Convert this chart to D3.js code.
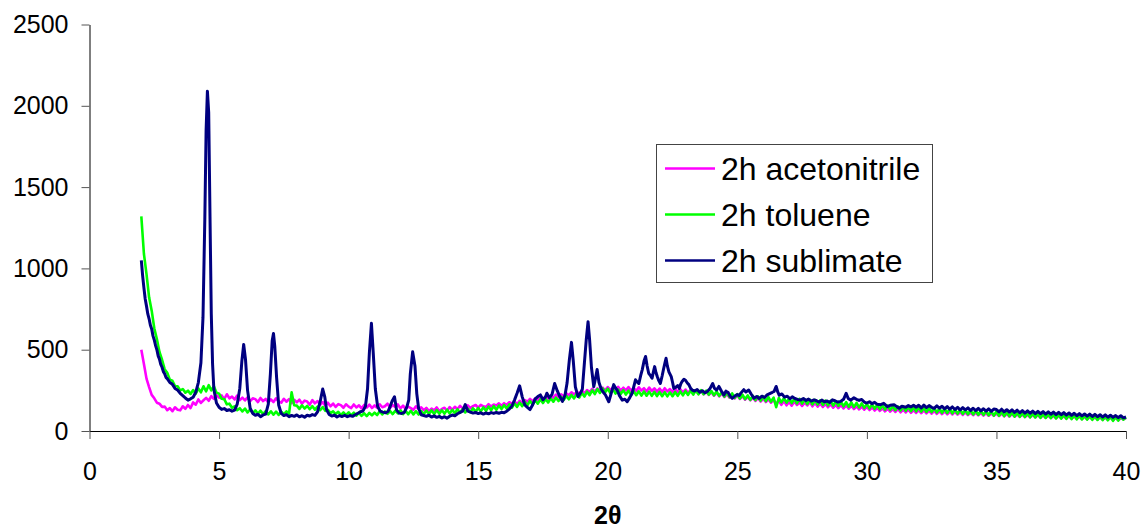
<!DOCTYPE html>
<html>
<head>
<meta charset="utf-8">
<script src="https://cdn.jsdelivr.net/npm/d3@7"></script>
<style>
    body { margin: 0; background: #ffffff; }
    svg { display: block; font-family: Arial, "Liberation Sans", sans-serif; }
</style>
</head>
<body>
<div id="my_dataviz"></div>
<script>
////////////////////////////////////////////////////////
// data (2 theta scan)
////////////////////////////////////////////////////////
const seriesNames = ['2h acetonitrile', '2h toluene', '2h sublimate'];
const seriesColors = ['#ff00ff', '#00ff00', '#000080'];

const xTicks = [0, 5, 10, 15, 20, 25, 30, 35, 40];
const yTicks = [0, 500, 1000, 1500, 2000, 2500];

// acetonitrile and toluene are on the scan grid: start 2.0, step 0.1
const scanStart = 2.0;
const scanStep = 0.1;

const acetonitrile = [
    500, 412, 322, 270, 222, 201, 174, 168, 148, 150,
    128, 141, 122, 146, 131, 127, 152, 136, 160, 141,
    176, 162, 194, 173, 189, 204, 186, 214, 197, 221,
    205, 219, 196, 226, 201, 212, 194, 218, 190, 205,
    188, 207, 183, 201, 196, 178, 203, 184, 197, 176,
    194, 178, 201, 182, 174, 198, 180, 196, 171, 192,
    176, 193, 168, 187, 181, 162, 190, 170, 184, 161,
    178, 156, 174, 152, 169, 148, 165, 159, 143, 164,
    150, 141, 163, 145, 158, 139, 160, 144, 162, 141,
    157, 143, 164, 146, 152, 168, 142, 160, 147, 163,
    139, 156, 135, 150, 141, 130, 152, 134, 145, 128,
    142, 122, 138, 127, 145, 121, 136, 143, 124, 147,
    130, 149, 134, 155, 139, 145, 158, 141, 153, 160,
    143, 161, 152, 147, 165, 150, 163, 157, 170, 155,
    171, 160, 177, 168, 182, 165, 186, 174, 190, 181,
    197, 183, 201, 192, 207, 190, 212, 198, 216, 205,
    224, 207, 226, 214, 232, 219, 238, 224, 241, 230,
    248, 232, 252, 240, 259, 241, 262, 245, 267, 250,
    270, 251, 268, 254, 272, 248, 266, 250, 270, 247,
    266, 246, 269, 249, 263, 243, 267, 246, 262, 242,
    261, 240, 263, 243, 258, 238, 260, 241, 257, 236,
    255, 234, 253, 231, 250, 229, 247, 226, 243, 222,
    240, 217, 236, 213, 231, 209, 227, 205, 222, 200,
    219, 197, 215, 193, 210, 189, 206, 185, 203, 181,
    199, 178, 196, 174, 192, 166, 188, 161, 185, 158,
    178, 156, 181, 160, 176, 154, 174, 157, 179, 152,
    172, 150, 169, 148, 167, 146, 164, 143, 161, 141,
    160, 139, 157, 137, 155, 135, 152, 133, 150, 131,
    148, 129, 146, 126, 143, 124, 140, 121, 137, 119,
    135, 117, 136, 115, 132, 114, 131, 112, 129, 111,
    128, 110, 127, 109, 125, 107, 124, 106, 122, 104,
    121, 103, 120, 102, 118, 101, 117, 99, 115, 98,
    114, 97, 113, 96, 112, 95, 110, 94, 109, 93,
    108, 92, 107, 90, 105, 89, 104, 88, 102, 87,
    101, 86, 100, 85, 98, 84, 97, 82, 96, 81,
    95, 80, 94, 79, 92, 78, 91, 77, 90, 76,
    89, 75, 88, 74, 86, 73, 85, 72, 84, 71,
    83, 70, 82, 69, 81, 68, 80, 67, 79, 72,
    79
];

const toluene = [
    1320, 1090, 965, 822, 740, 632, 566, 486, 438, 380,
    358, 316, 309, 276, 275, 250, 258, 236, 248, 228,
    252, 230, 262, 238, 275, 244, 282, 250, 276, 236,
    230, 198, 196, 164, 168, 143, 152, 128, 140, 120,
    138, 114, 133, 110, 127, 106, 125, 104, 122, 102,
    121, 100, 119, 99, 118, 103, 121, 105, 238, 158,
    156, 136, 158, 138, 155, 134, 153, 131, 150, 128,
    147, 124, 130, 110, 121, 104, 118, 98, 114, 97,
    115, 96, 113, 94, 111, 93, 109, 92, 111, 96,
    113, 98, 121, 102, 120, 106, 123, 104, 125, 108,
    127, 104, 125, 103, 124, 102, 122, 101, 123, 104,
    126, 104, 127, 105, 129, 106, 128, 107, 131, 108,
    130, 110, 134, 112, 136, 114, 138, 116, 140, 119,
    142, 121, 146, 124, 150, 128, 153, 131, 156, 135,
    159, 138, 164, 143, 170, 148, 175, 153, 180, 158,
    185, 163, 189, 168, 194, 172, 197, 175, 201, 180,
    205, 184, 210, 190, 216, 195, 222, 200, 228, 206,
    234, 212, 242, 220, 250, 227, 258, 234, 262, 238,
    260, 234, 257, 230, 254, 227, 251, 224, 248, 222,
    245, 220, 244, 218, 243, 217, 242, 216, 241, 215,
    240, 214, 239, 213, 238, 214, 240, 216, 243, 219,
    245, 222, 248, 224, 250, 225, 251, 226, 248, 224,
    246, 220, 243, 216, 239, 212, 236, 208, 231, 204,
    227, 200, 223, 196, 219, 192, 216, 190, 213, 187,
    211, 184, 208, 181, 205, 146, 203, 176, 202, 174,
    200, 172, 199, 170, 197, 168, 195, 166, 193, 164,
    191, 162, 189, 160, 187, 158, 185, 156, 182, 154,
    180, 151, 178, 149, 176, 147, 173, 145, 170, 142,
    167, 139, 164, 137, 161, 134, 159, 132, 156, 130,
    153, 128, 151, 126, 150, 124, 148, 122, 146, 121,
    145, 119, 143, 117, 141, 116, 140, 114, 138, 112,
    137, 111, 135, 109, 133, 107, 131, 105, 129, 103,
    128, 102, 126, 100, 124, 99, 123, 97, 121, 95,
    120, 94, 118, 92, 116, 91, 115, 89, 113, 87,
    112, 86, 110, 84, 108, 83, 107, 81, 105, 80,
    104, 79, 103, 77, 101, 76, 100, 75, 99, 73,
    98, 72, 96, 71, 95, 70, 94, 69, 93, 68,
    92, 67, 91, 66, 89, 62, 88, 64, 90, 70,
    85
];

// sublimate has sharp peaks, so it is kept as [2theta, counts] pairs
const sublimate = [
    [2.0,1050],[2.05,955],[2.1,880],[2.15,812],[2.2,768],[2.25,720],[2.3,690],[2.35,650],[2.4,628],[2.45,585],
    [2.5,560],[2.55,525],[2.6,500],[2.65,462],[2.7,442],[2.75,410],[2.8,392],[2.85,365],[2.9,352],[2.95,330],
    [3.0,322],[3.1,298],[3.2,287],[3.3,262],[3.4,252],[3.5,232],[3.6,218],[3.7,203],[3.8,190],[3.9,198],
    [4.0,208],[4.1,238],[4.2,298],[4.3,420],[4.38,700],[4.45,1300],[4.5,1850],[4.55,2090],[4.6,1960],[4.65,1320],
    [4.7,720],[4.75,410],[4.8,255],[4.9,172],[5.0,146],[5.1,133],[5.2,138],[5.3,126],[5.4,131],[5.5,122],
    [5.6,128],[5.7,165],[5.8,262],[5.88,430],[5.95,532],[6.02,440],[6.1,250],[6.2,140],[6.3,108],[6.4,97],
    [6.5,103],[6.6,88],[6.7,99],[6.8,104],[6.9,165],[6.98,350],[7.05,555],[7.1,600],[7.15,520],[7.22,330],
    [7.3,160],[7.4,108],[7.5,95],[7.6,101],[7.7,88],[7.8,96],[7.9,90],[8.0,99],[8.1,87],[8.2,94],
    [8.3,85],[8.4,97],[8.5,92],[8.6,101],[8.7,96],[8.8,118],[8.9,180],[9.0,258],[9.08,210],[9.15,130],
    [9.25,102],[9.35,92],[9.45,98],[9.55,86],[9.65,95],[9.75,89],[9.85,97],[9.95,88],[10.05,95],[10.15,90],
    [10.25,100],[10.35,108],[10.45,118],[10.55,122],[10.65,152],[10.73,260],[10.8,480],[10.88,662],[10.95,480],[11.03,260],
    [11.12,150],[11.22,122],[11.32,116],[11.42,112],[11.52,120],[11.6,150],[11.68,185],[11.77,210],[11.85,130],[11.95,110],
    [12.05,108],[12.15,114],[12.25,150],[12.32,190],[12.38,350],[12.47,487],[12.56,400],[12.63,230],[12.7,140],[12.8,100],
    [12.9,95],[13.0,90],[13.1,97],[13.2,86],[13.3,93],[13.4,84],[13.5,90],[13.6,80],[13.7,88],[13.8,79],
    [13.9,91],[14.0,98],[14.1,94],[14.2,106],[14.3,114],[14.4,122],[14.5,162],[14.6,122],[14.7,116],[14.8,110],
    [14.9,114],[15.0,107],[15.1,112],[15.2,104],[15.3,111],[15.4,106],[15.5,113],[15.6,108],[15.7,114],[15.8,109],
    [15.9,115],[16.0,112],[16.1,122],[16.2,135],[16.3,152],[16.4,190],[16.5,232],[16.6,278],[16.7,210],[16.8,160],
    [16.9,145],[17.0,132],[17.1,160],[17.2,198],[17.3,212],[17.4,222],[17.5,192],[17.6,210],[17.65,232],[17.75,205],
    [17.85,225],[17.95,292],[18.05,248],[18.15,212],[18.25,182],[18.35,220],[18.43,295],[18.52,440],[18.6,545],[18.67,430],
    [18.75,272],[18.85,212],[18.95,235],[19.02,258],[19.1,420],[19.17,560],[19.24,672],[19.3,560],[19.37,392],[19.46,272],
    [19.52,318],[19.59,378],[19.66,300],[19.74,262],[19.82,240],[19.91,222],[20.04,180],[20.13,230],[20.23,285],[20.3,265],
    [20.36,252],[20.46,215],[20.56,190],[20.66,195],[20.75,180],[20.85,205],[20.94,232],[21.07,315],[21.14,300],[21.2,292],
    [21.27,340],[21.33,376],[21.4,430],[21.46,458],[21.52,400],[21.58,355],[21.65,340],[21.71,325],[21.77,370],[21.81,396],
    [21.86,360],[21.91,335],[21.97,310],[22.03,292],[22.1,340],[22.16,386],[22.21,420],[22.25,447],[22.3,400],[22.36,364],
    [22.45,334],[22.5,300],[22.55,262],[22.62,268],[22.7,280],[22.76,262],[22.82,290],[22.87,305],[22.94,318],[23.0,312],
    [23.07,295],[23.13,285],[23.2,262],[23.26,252],[23.35,246],[23.45,255],[23.55,238],[23.65,248],[23.75,235],[23.85,244],
    [23.95,262],[24.05,292],[24.12,262],[24.2,252],[24.29,274],[24.38,248],[24.48,222],[24.56,245],[24.65,236],[24.72,215],
    [24.8,201],[24.9,215],[25.0,224],[25.07,218],[25.15,236],[25.25,254],[25.33,240],[25.44,252],[25.54,226],[25.64,202],
    [25.75,212],[25.85,200],[25.95,214],[26.05,206],[26.15,222],[26.25,230],[26.35,238],[26.42,244],[26.5,274],[26.56,240],
    [26.62,220],[26.72,228],[26.82,208],[26.93,214],[27.03,198],[27.12,210],[27.22,200],[27.32,194],[27.44,190],[27.55,200],
    [27.65,188],[27.75,196],[27.85,184],[27.96,192],[28.06,186],[28.16,178],[28.26,190],[28.36,180],[28.47,184],[28.57,176],
    [28.67,192],[28.77,186],[28.88,178],[28.99,182],[29.1,195],[29.2,232],[29.28,200],[29.38,190],[29.5,204],[29.6,195],
    [29.7,188],[29.8,194],[29.9,178],[30.0,172],[30.1,180],[30.2,168],[30.3,176],[30.4,164],[30.53,162],[30.65,170],
    [30.79,150],[30.9,158],[31.05,162],[31.15,150],[31.25,140],[31.35,152],[31.5,146],[31.6,156],[31.7,148],[31.8,158],
    [31.9,146],[32.0,158],[32.1,142],[32.2,159],[32.3,144],[32.4,156],[32.5,146],[32.6,139],[32.7,155],[32.8,140],
    [32.9,152],[33.0,136],[33.1,150],[33.2,134],[33.3,148],[33.4,132],[33.5,146],[33.6,129],[33.7,144],[33.8,130],
    [33.9,142],[34.0,126],[34.1,140],[34.2,125],[34.3,139],[34.4,124],[34.5,137],[34.6,122],[34.7,136],[34.8,121],
    [34.9,135],[35.0,132],[35.1,118],[35.2,134],[35.3,117],[35.4,131],[35.5,116],[35.6,130],[35.7,114],[35.8,128],
    [35.9,112],[36.0,125],[36.1,110],[36.2,124],[36.3,109],[36.4,122],[36.5,107],[36.6,121],[36.7,106],[36.8,119],
    [36.9,104],[37.0,118],[37.1,103],[37.2,116],[37.3,101],[37.4,115],[37.5,100],[37.6,113],[37.7,98],[37.8,111],
    [37.9,96],[38.0,109],[38.1,94],[38.2,107],[38.3,93],[38.4,105],[38.5,91],[38.6,104],[38.7,89],[38.8,102],
    [38.9,88],[39.0,100],[39.1,86],[39.2,99],[39.3,85],[39.4,97],[39.5,84],[39.6,95],[39.7,82],[39.8,94],
    [39.9,81],[40.0,86]
];

////////////////////////////////////////////////////////
// chart
////////////////////////////////////////////////////////
const W = 1145, H = 529;
const margin = {top: 24.5, right: 19, bottom: 98, left: 89.5};
const width = W - margin.left - margin.right;
const height = H - margin.top - margin.bottom;

const svg = d3.select('#my_dataviz')
    .append('svg')
        .attr('width', W)
        .attr('height', H)
    .append('g')
        .attr('transform', 'translate(' + margin.left + ',' + margin.top + ')');

const x = d3.scaleLinear().domain([0, 40]).range([0, width]);
const y = d3.scaleLinear().domain([0, 2500]).range([height, 0]);

// axes
const xAxis = svg.append('g')
    .attr('transform', 'translate(0,' + height + ')')
    .call(d3.axisBottom(x).tickValues(xTicks).tickSize(8).tickSizeOuter(0).tickFormat(d3.format('d')));
xAxis.select('.domain').attr('stroke', '#000');
xAxis.selectAll('line').attr('stroke', '#555');
xAxis.selectAll('text')
    .attr('y', 31)
    .attr('dy', '0.71em')
    .style('font-size', '25px')
    .style('fill', '#000');

const yAxis = svg.append('g')
    .call(d3.axisLeft(y).tickValues(yTicks).tickSize(8).tickSizeOuter(0).tickFormat(d3.format('d')));
yAxis.select('.domain').attr('stroke', '#000');
yAxis.selectAll('line').attr('stroke', '#555');
yAxis.selectAll('text')
    .attr('x', -21)
    .style('font-size', '25px')
    .style('fill', '#000');

// lines
const line = d3.line()
    .x(d => x(d[0]))
    .y(d => y(d[1]));

const onGrid = arr => arr.map((v, i) => [scanStart + i * scanStep, v]);
const series = [onGrid(acetonitrile), onGrid(toluene), sublimate];

series.forEach((data, i) => {
    svg.append('path')
        .datum(data)
        .attr('fill', 'none')
        .attr('stroke', seriesColors[i])
        .attr('stroke-width', i == 2 ? 3 : 2.6)
        .attr('stroke-linejoin', 'round')
        .attr('d', line);
});

// x axis title
svg.append('text')
    .attr('x', x(20))
    .attr('y', height + 93)
    .attr('text-anchor', 'middle')
    .style('font-size', '25px')
    .style('font-weight', 'bold')
    .text('2\u03b8');

// legend
const legend = svg.append('g')
    .attr('transform', 'translate(' + (656 - margin.left) + ',' + (144 - margin.top) + ')');

legend.append('rect')
    .attr('x', 0.5).attr('y', 0.5)
    .attr('width', 276).attr('height', 138)
    .attr('fill', '#fff')
    .attr('stroke', '#444')
    .attr('stroke-width', 1);

seriesNames.forEach((name, i) => {
    const ly = 24.5 + i * 46;
    legend.append('line')
        .attr('x1', 9).attr('x2', 59)
        .attr('y1', ly).attr('y2', ly)
        .attr('stroke', seriesColors[i])
        .attr('stroke-width', 2.6);
    legend.append('text')
        .attr('x', 65)
        .attr('y', ly + 11.5)
        .style('font-size', '32px')
        .text(name);
});
</script>
</body>
</html>
